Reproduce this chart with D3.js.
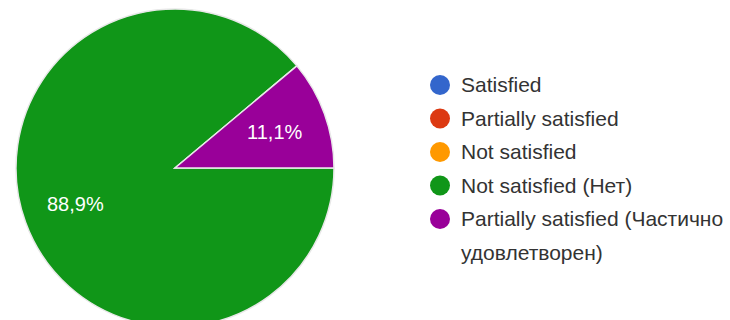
<!DOCTYPE html>
<html>
<head>
<meta charset="utf-8">
<script src="https://cdn.jsdelivr.net/npm/d3@7"></script>
<style>
body { margin: 0; background: #fff; }
text { font-family: "Liberation Sans", Arial, sans-serif; }
</style>
</head>
<body>
<svg width="730" height="320"></svg>
<script>
var categories = ["Satisfied", "Partially satisfied", "Not satisfied", "Not satisfied (Нет)", "Partially satisfied (Частично удовлетворен)"];
var legendLines = [["Satisfied"], ["Partially satisfied"], ["Not satisfied"], ["Not satisfied (Нет)"], ["Partially satisfied (Частично", "удовлетворен)"]];
var values = [0, 0, 0, 88.9, 11.1];
var colors = ["#3366cc", "#dc3912", "#ff9900", "#109618", "#990099"];

var svg = d3.select("svg"),
    cx = 175, cy = 168, radius = 159;

var data = categories.map(function(c, i) { return {name: c, value: values[i], color: colors[i]}; });

var pie = d3.pie()
    .sort(null)
    .value(function(d) { return d.value; })
    .startAngle(Math.PI / 2)
    .endAngle(Math.PI / 2 + 2 * Math.PI);

var arc = d3.arc().innerRadius(0).outerRadius(radius);
var labelArc = d3.arc().innerRadius(radius * 0.667).outerRadius(radius * 0.667);

var g = svg.append("g").attr("transform", "translate(" + cx + "," + cy + ")");

var arcs = pie(data).filter(function(d) { return d.data.value > 0; });

g.selectAll("path")
    .data(arcs)
    .enter().append("path")
    .attr("d", arc)
    .attr("fill", function(d) { return d.data.color; })
    .attr("stroke", "#e8e8e8")
    .attr("stroke-width", 1.5);

g.selectAll("text.lbl")
    .data(arcs)
    .enter().append("text")
    .attr("class", "lbl")
    .attr("transform", function(d) { return "translate(" + labelArc.centroid(d) + ")"; })
    .attr("text-anchor", "middle")
    .attr("dy", "0.35em")
    .attr("fill", "#fff")
    .style("font-size", "20px")
    .text(function(d) { return d.data.value.toFixed(1).replace(".", ",") + "%"; });

// legend
var ly = d3.scaleLinear().domain([0, 1]).range([85, 118.5]);
var leg = svg.append("g");
var item = leg.selectAll("g")
    .data(data)
    .enter().append("g")
    .attr("transform", function(d, i) { return "translate(440," + ly(i) + ")"; });

item.append("circle")
    .attr("r", 10)
    .attr("fill", function(d) { return d.color; });

item.each(function(d, i) {
    var t = d3.select(this).append("text")
        .attr("fill", "#333")
        .style("font-size", "21px");
    legendLines[i].forEach(function(line, j) {
        t.append("tspan").attr("x", 21).attr("dy", j === 0 ? "0.35em" : "33.5px").text(line);
    });
});
</script>
</body>
</html>
